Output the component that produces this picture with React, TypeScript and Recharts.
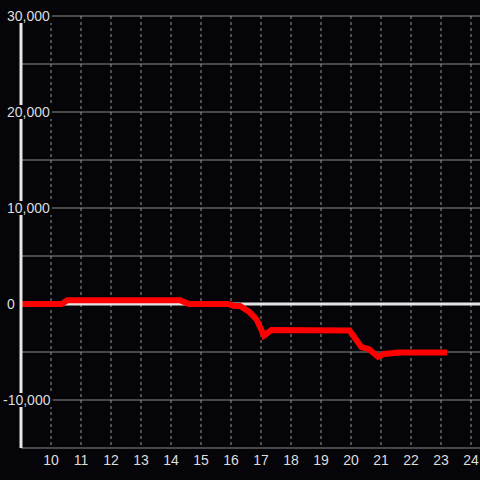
import React from "react";
import { LineChart, Line, XAxis, YAxis, CartesianGrid, ReferenceLine } from "recharts";

const hours = [9, 10.35, 10.55, 14.3, 14.6, 15.9, 16.1, 16.3, 16.6, 16.85, 17.1, 17.35, 19.95, 20.35, 20.6, 20.9, 21.1, 21.6, 23.2];
const values = [0, 0, 400, 400, 0, 0, -200, -200, -800, -1600, -3300, -2700, -2750, -4500, -4700, -5500, -5200, -5050, -5050];
const xTicks = [10, 11, 12, 13, 14, 15, 16, 17, 18, 19, 20, 21, 22, 23, 24];
const yTicks = [-10000, 0, 10000, 20000, 30000];
const yGrid = [-15000, -10000, -5000, 0, 5000, 10000, 15000, 20000, 25000, 30000];
const xGrid = [10, 11, 12, 13, 14, 15, 16, 17, 18, 19, 20, 21, 22, 23, 24];

const data = hours.map((t, i) => ({ t, v: values[i] }));

const BG = "#050408";
const FONT = "'Liberation Sans', Arial, sans-serif";

const charW = (c: string) => (c === "," ? 3.9 : c === "-" ? 4.7 : 7.8);
const fmt = (v: number) => v.toLocaleString("en-US");

function YTick(props: any) {
  const { y, payload } = props;
  const label = fmt(payload.value);
  const w = label.split("").reduce((s: number, c: string) => s + charW(c), 0);
  const x0 = payload.value < 0 ? 3 : 7;
  return (
    <g>
      <rect x={x0 - 2} y={y - 7} width={w + 4} height={14} fill={BG} />
      <text x={x0} y={y} dy="0.35em" textAnchor="start" fill="#dddddd" fontSize={14} fontFamily={FONT}>
        {label}
      </text>
    </g>
  );
}

export default function App() {
  return (
    <div style={{ position: "fixed", left: 0, top: 0, width: 480, height: 480, background: BG }}>
      <LineChart width={480} height={480} data={data} margin={{ top: 16, right: 0, bottom: 0, left: 0 }}>
        <CartesianGrid horizontal={true} vertical={false} horizontalValues={yGrid} stroke="#8a8a8a" strokeWidth={1} />
        <CartesianGrid horizontal={false} vertical={true} verticalValues={xGrid} stroke="#9a9a9a" strokeDasharray="3 3" strokeWidth={1} />
        <XAxis
          type="number"
          dataKey="t"
          domain={[9, 24.3]}
          ticks={xTicks}
          allowDataOverflow
          height={32}
          axisLine={false}
          tickLine={false}
          tickSize={0}
          tickMargin={7}
          tick={{ fill: "#dddddd", fontSize: 14, fontFamily: FONT }}
        />
        <YAxis
          type="number"
          domain={[-15000, 30000]}
          ticks={yTicks}
          allowDataOverflow
          width={21}
          axisLine={{ stroke: "#e6e6e6", strokeWidth: 3 }}
          tickLine={false}
          tick={<YTick />}
        />
        <ReferenceLine y={0} stroke="#e6e6e6" strokeWidth={3} />
        <Line
          type="linear"
          dataKey="v"
          stroke="#ff0000"
          strokeWidth={6}
          dot={false}
          activeDot={false}
          isAnimationActive={false}
        />
      </LineChart>
    </div>
  );
}
